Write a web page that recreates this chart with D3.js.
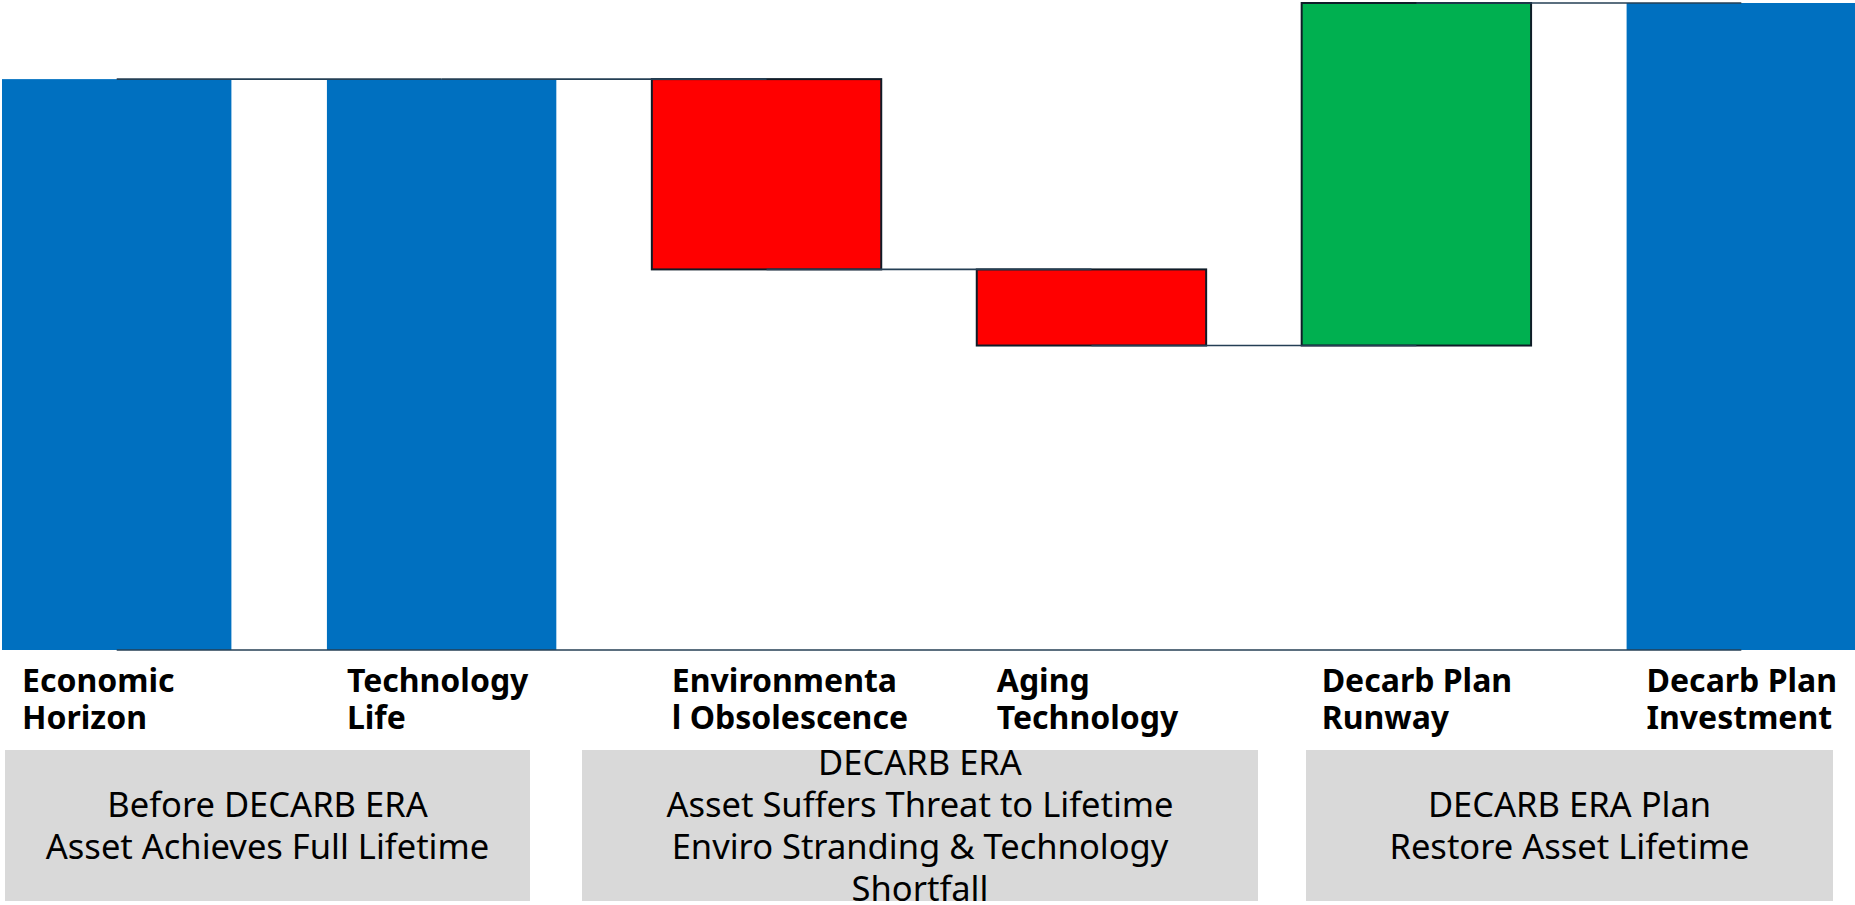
<!DOCTYPE html>
<html>
<head>
<meta charset="utf-8">
<script src="https://cdn.jsdelivr.net/npm/d3@7/dist/d3.min.js"></script>
<style>
  html, body { margin: 0; padding: 0; background: #ffffff; }
  svg { display: block; }
</style>
</head>
<body>
<svg id="chart" width="1855" height="905"></svg>
<script>
// Waterfall steps: asset lifetime (years) from horizon to decarb plan
const categories = [
  "Economic Horizon",
  "Technology Life",
  "Environmental Obsolescence",
  "Aging Technology",
  "Decarb Plan Runway",
  "Decarb Plan Investment"
];
const labelLines = [
  ["Economic", "Horizon"],
  ["Technology", "Life"],
  ["Environmenta", "l Obsolescence"],
  ["Aging", "Technology"],
  ["Decarb Plan", "Runway"],
  ["Decarb Plan", "Investment"]
];
const values = [30, 30, -10, -4, 18, 34];
const kinds  = ["total", "total", "decrease", "decrease", "increase", "total"];

// Grouping panels beneath the axis
const panelGroups = [
  ["Before DECARB ERA", "Asset Achieves Full Lifetime"],
  ["DECARB ERA", "Asset Suffers Threat to Lifetime", "Enviro Stranding & Technology", "Shortfall"],
  ["DECARB ERA Plan", "Restore Asset Lifetime"]
];

const W = 1855, H = 905;
const svg = d3.select("#chart");

const colors = { total: "#0070C0", decrease: "#FF0000", increase: "#00B050" };

const x = d3.scaleBand()
  .domain(categories)
  .range([2, 1856])
  .paddingInner(0.294)
  .paddingOuter(0);

const y = d3.scaleLinear().domain([0, 34]).range([650, 3]);

// Running totals -> bar extents
let running = 0;
const steps = categories.map((c, i) => {
  let start, end;
  if (kinds[i] === "total") { start = 0; end = values[i]; running = values[i]; }
  else { start = running; end = running + values[i]; running = end; }
  return { cat: c, kind: kinds[i], start, end, lines: labelLines[i] };
});

const cx = c => x(c) + x.bandwidth() / 2;

// Bars
svg.append("g").selectAll("rect")
  .data(steps)
  .join("rect")
  .attr("x", d => x(d.cat))
  .attr("y", d => y(Math.max(d.start, d.end)))
  .attr("width", x.bandwidth())
  .attr("height", d => Math.abs(y(d.start) - y(d.end)))
  .attr("fill", d => colors[d.kind])
  .attr("stroke", d => d.kind === "total" ? "none" : "#0f1c28")
  .attr("stroke-width", 2);

// Connectors between consecutive bars at the running level
const links = steps.slice(0, -1).map((d, i) => ({
  x1: cx(d.cat), x2: cx(steps[i + 1].cat), level: d.end
}));
links.push({ x1: cx(categories[0]), x2: cx(categories[categories.length - 1]), level: 0 });

svg.append("g").selectAll("line")
  .data(links)
  .join("line")
  .attr("x1", d => d.x1)
  .attr("x2", d => d.x2)
  .attr("y1", d => y(d.level))
  .attr("y2", d => y(d.level))
  .attr("stroke", "#243f55")
  .attr("stroke-width", 1.6);

// Category labels
const lab = svg.append("g")
  .attr("font-family", "'Noto Sans', 'Open Sans', sans-serif")
  .attr("font-weight", 700)
  .attr("font-size", 32)
  .attr("fill", "#000");

lab.selectAll("text")
  .data(steps)
  .join("text")
  .attr("x", d => x(d.cat) + 20)
  .attr("y", 692)
  .selectAll("tspan")
  .data(d => d.lines)
  .join("tspan")
  .attr("x", function () { return d3.select(this.parentNode).attr("x"); })
  .attr("dy", (t, j) => j === 0 ? 0 : 37)
  .text(t => t);

// Grey panels with centred captions
const panelBoxes = [
  { x0: 5, x1: 530 },
  { x0: 582, x1: 1258 },
  { x0: 1306, x1: 1833 }
];
const panelTop = 750, panelH = 151, lineGap = 42;

const panels = svg.append("g").selectAll("g")
  .data(panelGroups.map((lines, i) => ({ lines, box: panelBoxes[i] })))
  .join("g");

panels.append("rect")
  .attr("x", d => d.box.x0)
  .attr("y", panelTop)
  .attr("width", d => d.box.x1 - d.box.x0)
  .attr("height", panelH)
  .attr("fill", "#D9D9D9");

panels.append("text")
  .attr("font-family", "'Noto Sans', 'Open Sans', sans-serif")
  .attr("font-size", 34.5)
  .attr("fill", "#000")
  .attr("text-anchor", "middle")
  .selectAll("tspan")
  .data(d => d.lines.map((t, j) => ({ t, j, n: d.lines.length, box: d.box })))
  .join("tspan")
  .attr("x", d => (d.box.x0 + d.box.x1) / 2)
  .attr("y", d => panelTop + panelH / 2 + 12 + (d.j - (d.n - 1) / 2) * lineGap)
  .text(d => d.t);
</script>
</body>
</html>
